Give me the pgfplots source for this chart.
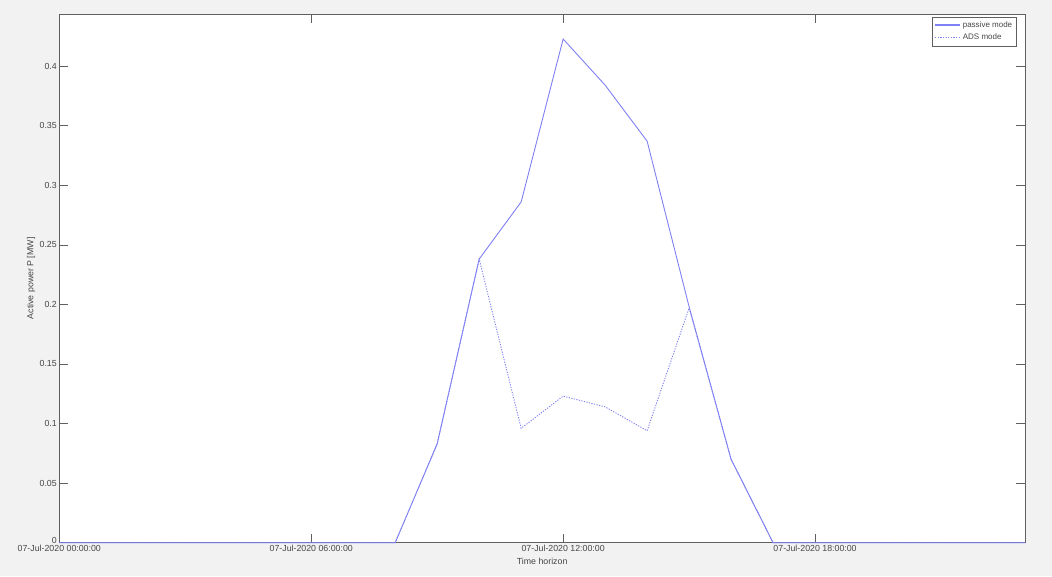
\documentclass[border=0pt]{standalone}
\usepackage{pgfplots}
\pgfplotsset{compat=1.18}
\usepackage{fontspec}
\setmainfont{Liberation Sans}
\definecolor{figbg}{RGB}{242,242,242}
\definecolor{lineblue}{RGB}{128,128,245}
\definecolor{framegray}{RGB}{95,95,95}
\definecolor{textgray}{RGB}{70,70,70}
\pgfplotstableread{
h p
0 0
1 0
2 0
3 0
4 0
5 0
6 0
7 0
8 0
9 0.083
10 0.238
11 0.286
12 0.4227
13 0.384
14 0.337
15 0.198
16 0.070
17 0
18 0
19 0
20 0
21 0
22 0
23 0
}\passive
\pgfplotstableread{
h p
0 0
1 0
2 0
3 0
4 0
5 0
6 0
7 0
8 0
9 0.083
10 0.238
11 0.096
12 0.123
13 0.114
14 0.094
15 0.197
16 0.070
17 0
18 0
19 0
20 0
21 0
22 0
23 0
}\ads
\begin{document}
\begin{tikzpicture}
\fill[figbg] (0,0) rectangle (1052pt,576pt);
\begin{axis}[
  at={(59.3pt,33.3pt)}, anchor=south west,
  scale only axis, width=965.7pt, height=528.7pt,
  xmin=0, xmax=23, ymin=0, ymax=0.4437,
  axis background/.style={fill=white},
  axis line style={framegray, line width=0.8pt},
  tick style={framegray, line width=0.6pt},
  major tick length=9pt,
  tick align=inside,
  xtick={0,6,12,18},
  xticklabels={07-Jul-2020 00:00:00,07-Jul-2020 06:00:00,07-Jul-2020 12:00:00,07-Jul-2020 18:00:00},
  ytick={0,0.05,0.1,0.15,0.2,0.25,0.3,0.35,0.4},
  yticklabels={\raisebox{4pt}{0},0.05,0.1,0.15,0.2,0.25,0.3,0.35,0.4},
  tick label style={font=\fontsize{8.8}{10}\selectfont, text=textgray},
  xticklabel style={yshift=1pt},
  yticklabel style={xshift=1pt},
  xlabel={Time horizon},
  ylabel={Active power P [MW]},
  label style={font=\fontsize{8.8}{10}\selectfont, text=textgray},
  xlabel style={at={(axis description cs:0.5,0)}, anchor=north, yshift=-12pt},
  ylabel style={at={(axis description cs:-0.0293,0.5)}, anchor=center, rotate=0},
  clip=false,
  legend style={at={(1,1)}, anchor=north east, xshift=-8pt, yshift=-3pt,
    draw=framegray, line width=0.6pt, font=\fontsize{8}{9.5}\selectfont\color{textgray},
    inner sep=2.5pt, row sep=1pt, cells={anchor=west}},
  legend cell align=left,
]
\addplot[lineblue, line width=0.9pt, forget plot] table[x=h, y=p] {\passive};
\addplot[lineblue, line width=0.9pt, dash pattern=on 1.2pt off 1.4pt, forget plot] table[x=h, y=p] {\ads};
\addlegendimage{legend image code/.code={\draw[draw=lineblue, line width=1.4pt] (0pt,0.5pt) -- (25pt,0.5pt);}}
\addlegendentry{passive mode}
\addlegendimage{legend image code/.code={\draw[draw=lineblue, line width=1.4pt, dash pattern=on 1.2pt off 1.4pt] (0pt,0.5pt) -- (25pt,0.5pt);}}
\addlegendentry{ADS mode}
\end{axis}
\end{tikzpicture}
\end{document}
